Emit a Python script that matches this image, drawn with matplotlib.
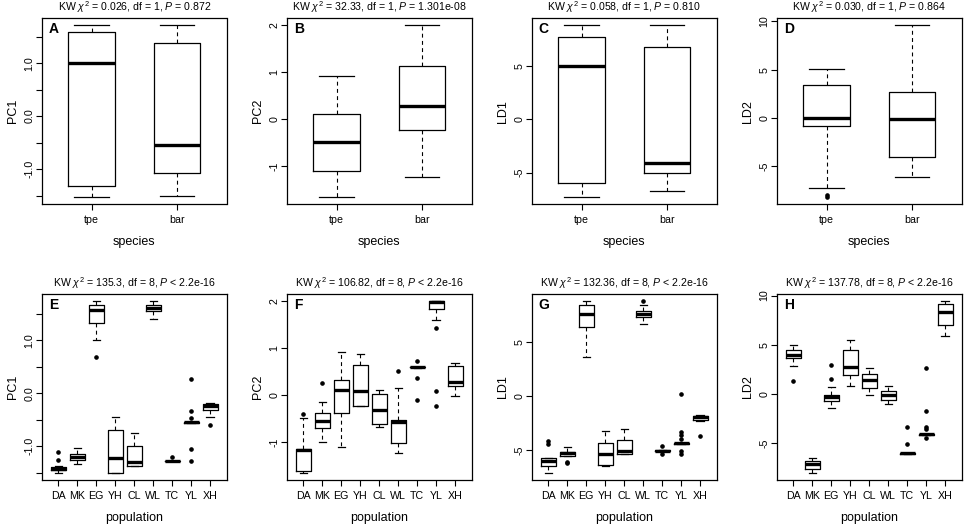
import matplotlib
matplotlib.use('Agg')
import matplotlib.pyplot as plt
import numpy as np

plt.rcParams['font.family'] = ['Liberation Sans', 'DejaVu Sans']
plt.rcParams['mathtext.fontset'] = 'custom'
plt.rcParams['mathtext.rm'] = 'Liberation Sans'
plt.rcParams['mathtext.it'] = 'Liberation Sans:italic'
plt.rcParams['axes.unicode_minus'] = False

species = ['tpe', 'bar']
population = ['DA', 'MK', 'EG', 'YH', 'CL', 'WL', 'TC', 'YL', 'XH']

# five-number summaries per group: (lower whisker, Q1, median, Q3, upper whisker)
pc1_species = [(-1.535, -1.32, 0.994, 1.59, 1.717), (-1.503, -1.082, -0.547, 1.384, 1.717)]
pc2_species = [(-1.66, -1.10, -0.494, 0.106, 0.917), (-1.22, -0.233, 0.275, 1.13, 1.99)]
ld1_species = [(-7.31, -5.94, 5.0, 7.75, 8.84), (-6.69, -5.0, -4.09, 6.81, 8.84)]
ld2_species = [(-7.23, -0.79, 0.0, 3.42, 5.03), (-6.10, -4.04, -0.07, 2.67, 9.59)]
ld2_species_out = [[-7.9, -8.2], []]

pc1_pop = [(-1.51, -1.46, -1.43, -1.40, -1.38), (-1.33, -1.27, -1.21, -1.14, -1.035),
           (1.003, 1.32, 1.575, 1.67, 1.746), (-1.505, -1.50, -1.225, -0.686, -0.457),
           (-1.38, -1.378, -1.30, -1.003, -0.749), (1.397, 1.556, 1.606, 1.67, 1.746),
           (-1.29, -1.288, -1.283, -1.278, -1.275), (-0.56, -0.555, -0.545, -0.54, -0.535),
           (-0.45, -0.317, -0.235, -0.21, -0.178)]
pc1_pop_out = [[-1.27, -1.11], [], [0.69], [], [], [], [-1.21],
               [0.267, -0.343, -0.47, -1.054, -1.283], [-0.603]]

pc2_pop = [(-1.65, -1.595, -1.165, -1.15, -0.48), (-0.995, -0.685, -0.536, -0.367, -0.134),
           (-1.094, -0.367, 0.113, 0.318, 0.924), (-0.226, -0.226, 0.099, 0.635, 0.868),
           (-0.677, -0.614, -0.303, 0.028, 0.113), (-1.228, -1.016, -0.572, -0.515, 0.162),
           (0.585, 0.588, 0.593, 0.598, 0.60), (1.60, 1.835, 1.983, 1.997, 1.997),
           (-0.014, 0.198, 0.289, 0.628, 0.692)]
pc2_pop_out = [[-0.395], [0.254], [], [], [], [0.515], [0.734, 0.367, -0.099],
               [1.418, 0.085, -0.233], []]

ld1_pop = [(-7.13, -6.51, -6.05, -5.77, -5.77), (-5.52, -5.52, -5.31, -5.15, -4.72),
           (3.61, 6.36, 7.59, 8.43, 8.77), (-6.48, -6.39, -5.40, -4.38, -3.24),
           (-5.37, -5.37, -5.12, -4.07, -3.06), (6.64, 7.25, 7.56, 7.84, 8.43),
           (-5.12, -5.09, -5.06, -5.03, -5.0), (-4.45, -4.42, -4.38, -4.35, -4.32),
           (-2.30, -2.25, -1.94, -1.85, -1.80)]
ld1_pop_out = [[-4.17, -4.48], [-6.11, -6.23], [], [], [], [8.73], [-4.6, -5.37],
               [0.15, -3.33, -3.58, -3.95, -5.09, -5.40], [-3.73]]

ld2_pop = [(2.79, 3.64, 3.98, 4.49, 5.0), (-8.06, -7.69, -7.11, -6.87, -6.5),
           (-1.39, -0.75, -0.31, -0.07, 0.68), (0.82, 1.94, 2.76, 4.46, 5.51),
           (-0.14, 0.61, 1.39, 2.07, 2.62), (-0.99, -0.61, -0.14, 0.31, 0.82),
           (-6.1, -6.08, -6.05, -6.02, -6.0), (-4.2, -4.16, -4.12, -4.08, -4.04),
           (5.92, 7.04, 8.33, 9.18, 9.46)]
ld2_pop_out = [[1.33], [], [2.89, 1.50], [], [], [], [-3.37, -5.14],
               [2.59, -1.70, -3.33, -3.54, -4.49], []]

titles = ['KW $\\chi^2$ = 0.026, df = 1, $P$ = 0.872',
          'KW $\\chi^2$ = 32.33, df = 1, $P$ = 1.301e-08',
          'KW $\\chi^2$ = 0.058, df = 1, $P$ = 0.810',
          'KW $\\chi^2$ = 0.030, df = 1, $P$ = 0.864',
          'KW $\\chi^2$ = 135.3, df = 8, $P$ < 2.2e-16',
          'KW $\\chi^2$ = 106.82, df = 8, $P$ < 2.2e-16',
          'KW $\\chi^2$ = 132.36, df = 8, $P$ < 2.2e-16',
          'KW $\\chi^2$ = 137.78, df = 8, $P$ < 2.2e-16']
letters = ['A', 'B', 'C', 'D', 'E', 'F', 'G', 'H']
ylabels = ['PC1', 'PC2', 'LD1', 'LD2']

# y ticks (label '' means tick without label, as R drops overlapping ones)
pc1_ticks = [-1.5, -1.0, -0.5, 0.0, 0.5, 1.0, 1.5]
pc1_ticklabels = ['', '-1.0', '', '0.0', '', '1.0', '']
pc2_ticks = [-1, 0, 1, 2]
pc2_ticklabels = ['-1', '0', '1', '2']
ld1_ticks = [-5, 0, 5]
ld1_ticklabels = ['-5', '0', '5']
ld2_ticks = [-5, 0, 5, 10]
ld2_ticklabels = ['-5', '0', '5', '10']

W, H = 964, 529
fig = plt.figure(figsize=(W / 100, H / 100), dpi=100)

col_left = [42, 287, 532, 777]
row_top = [18.3, 294]
ax_w, ax_h = 184.5, 186


def draw_panel(ax, groups, stats, outs, ticks, ticklabels, letter, title, ylab, xlab, boxw, capw):
    n = len(groups)
    bstats = []
    for g, s, o in zip(groups, stats, outs):
        bstats.append(dict(label=g, whislo=s[0], q1=s[1], med=s[2], q3=s[3], whishi=s[4], fliers=o))
    ax.bxp(bstats, positions=np.arange(1, n + 1), widths=boxw, capwidths=capw, showfliers=True,
           boxprops=dict(color='black', lw=0.9),
           medianprops=dict(color='black', lw=2.4, solid_capstyle='butt'),
           whiskerprops=dict(color='black', lw=0.8, linestyle=(0, (3.5, 3))),
           capprops=dict(color='black', lw=0.9),
           flierprops=dict(marker='o', markersize=2.3, markerfacecolor='black',
                           markeredgecolor='black', linestyle='none'))
    vals = [v for s in stats for v in s] + [v for o in outs for v in o]
    lo, hi = min(vals), max(vals)
    pad = 0.04 * (hi - lo)
    ax.set_ylim(lo - pad, hi + pad)
    ax.set_xlim(0.5 - 0.04 * n, n + 0.5 + 0.04 * n)
    ax.set_xticks(np.arange(1, n + 1))
    ax.set_xticklabels(groups)
    ax.set_yticks(ticks)
    ax.set_yticklabels(ticklabels)
    ax.tick_params(axis='both', direction='out', length=4, width=0.8, labelsize=7.7)
    ax.tick_params(axis='x', pad=4)
    ax.tick_params(axis='y', pad=1.5, labelrotation=90)
    for lab in ax.get_yticklabels():
        lab.set_va('center')
    for sp in ax.spines.values():
        sp.set_linewidth(0.9)
    ax.set_ylabel(ylab, fontsize=9)
    ax.yaxis.set_label_coords(-0.127, 0.5)
    ax.set_xlabel(xlab, fontsize=9)
    ax.xaxis.set_label_coords(0.5, -0.17)
    ax.text(0.036, 0.981, letter, transform=ax.transAxes, fontsize=10, fontweight='bold',
            ha='left', va='top')
    ax.text(0.5, 1.039, title, transform=ax.transAxes, fontsize=7.6, ha='center', va='baseline')


top_data = [(pc1_species, [[], []], pc1_ticks, pc1_ticklabels),
            (pc2_species, [[], []], pc2_ticks, pc2_ticklabels),
            (ld1_species, [[], []], ld1_ticks, ld1_ticklabels),
            (ld2_species, ld2_species_out, ld2_ticks, ld2_ticklabels)]
bottom_data = [(pc1_pop, pc1_pop_out, pc1_ticks, pc1_ticklabels),
               (pc2_pop, pc2_pop_out, pc2_ticks, pc2_ticklabels),
               (ld1_pop, ld1_pop_out, ld1_ticks, ld1_ticklabels),
               (ld2_pop, ld2_pop_out, ld2_ticks, ld2_ticklabels)]

for r, (rows, groups, xlab, boxw, capw) in enumerate([(top_data, species, 'species', 0.54, 0.40),
                                                       (bottom_data, population, 'population', 0.78, 0.39)]):
    for c, (stats, outs, ticks, tlabs) in enumerate(rows):
        left = col_left[c] / W
        bottom = (H - row_top[r] - ax_h) / H
        ax = fig.add_axes([left, bottom, ax_w / W, ax_h / H])
        k = r * 4 + c
        draw_panel(ax, groups, stats, outs, ticks, tlabs, letters[k], titles[k],
                   ylabels[c], xlab, boxw, capw)

fig.savefig('out.png', dpi=100)
